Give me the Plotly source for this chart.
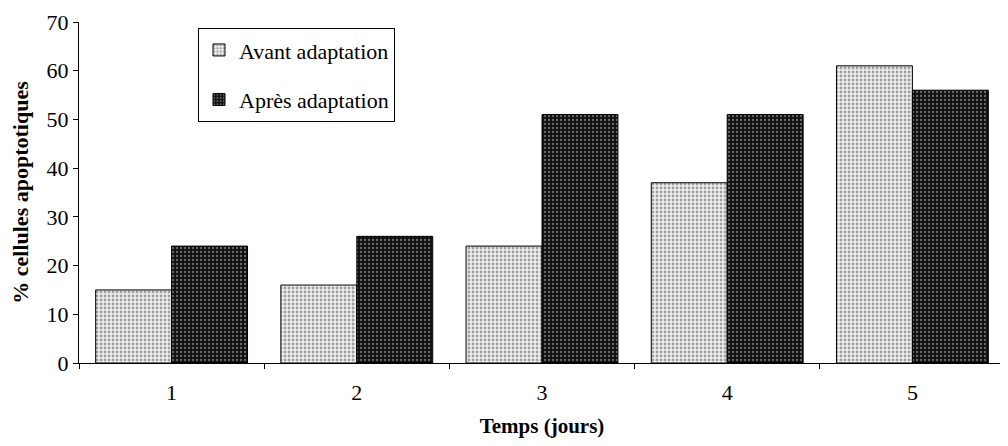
import plotly.graph_objects as go

jours = ["1", "2", "3", "4", "5"]
avant = [15, 16, 24, 37, 61]
apres = [24, 26, 51, 51, 56]
y_ticks = [0, 10, 20, 30, 40, 50, 60, 70]

FONT = "Liberation Serif"

fig = go.Figure()
fig.add_trace(go.Bar(
    x=jours, y=avant, name="Avant adaptation", legendgroup="a",
    marker=dict(color="#d0d0d0", line=dict(color="black", width=1),
                pattern=dict(shape=".", fgcolor="#505050", bgcolor="#eeeeee", size=4, solidity=0.4)),
))
fig.add_trace(go.Bar(
    x=jours, y=apres, name="Après adaptation", legendgroup="b",
    marker=dict(color="#303030", line=dict(color="black", width=1),
                pattern=dict(shape=".", fgcolor="#c8c8c8", bgcolor="#111111", size=4, solidity=0.25)),
))

fig.update_layout(
    width=1008, height=446,
    margin=dict(l=71, r=11, t=14, b=91),
    paper_bgcolor="white", plot_bgcolor="white",
    barmode="group", bargap=0.18, bargroupgap=0,
    font=dict(family=FONT, size=21, color="black"),
    showlegend=True,
    legend=dict(
        x=0.1285, y=0.982, xanchor="left", yanchor="top",
        bgcolor="white", bordercolor="black", borderwidth=1,
        font=dict(family=FONT, size=22, color="black"),
        tracegroupgap=18, traceorder="grouped",
        entrywidth=178, entrywidthmode="pixels",
    ),
)
fig.update_yaxes(
    range=[0, 70], tickvals=y_ticks, ticks="outside", ticklen=5, tickwidth=1, tickcolor="black",
    showline=True, linecolor="black", linewidth=1, showgrid=False, zeroline=False,
    tickfont=dict(family=FONT, size=22), automargin=False,
    title=dict(text="<b>% cellules apoptotiques</b>", font=dict(family=FONT, size=22), standoff=14),
)
fig.update_xaxes(
    type="category", tickson="boundaries", ticks="outside", ticklen=5, tickwidth=1, tickcolor="black",
    showline=True, linecolor="black", linewidth=1, showgrid=False, automargin=False,
    tickfont=dict(family=FONT, size=22), ticklabelstandoff=10,
    title=dict(text="<b>Temps (jours)</b>", font=dict(family=FONT, size=21), standoff=13),
)

fig.write_html("out.html")
